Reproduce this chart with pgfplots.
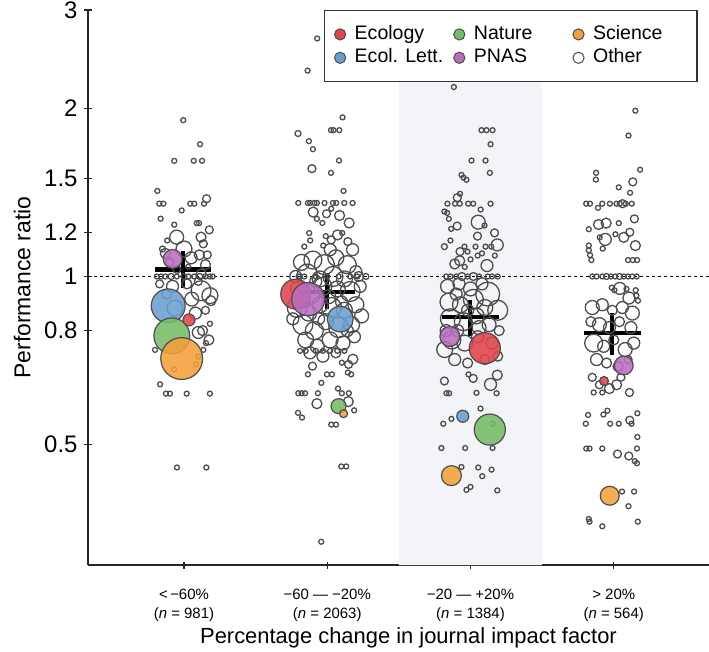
\documentclass[border=0pt]{standalone}
\usepackage{fontspec}
\setmainfont{Liberation Sans}
\usepackage{pgfplots}
\usepackage{pgfplotstable}
\pgfplotsset{compat=1.18}
\definecolor{ogray}{HTML}{4D4D4D}
\definecolor{cEco}{HTML}{E0454B}
\definecolor{cEL}{HTML}{6A9FD2}
\definecolor{cNat}{HTML}{76BC66}
\definecolor{cPNAS}{HTML}{B86EBF}
\definecolor{cSci}{HTML}{F4A03A}
\definecolor{shade}{HTML}{F2F4F7}

\pgfplotstableread{
x y r
-0.005 1.905 1.25
0.112 1.725 1.25
-0.068 1.611 1.25
0.068 1.611 1.25
0.126 1.611 1.25
-0.186 1.423 1.25
-0.172 1.350 1.25
-0.144 1.350 1.25
0.044 1.350 1.25
0.072 1.350 1.25
0.158 1.378 2
0.140 1.350 1.25
-0.016 1.313 1.25
-0.163 1.269 1.25
-0.068 1.238 1.25
0.089 1.246 1.25
0.105 1.246 1.25
0.177 1.212 2
-0.051 1.176 3.5
-0.117 1.160 1.25
0.119 1.176 2.5
0.135 1.144 2
0.107 1.093 2.5
0.163 1.093 2
0.030 1.041 1.25
-0.150 1.120 1.5
-0.100 1.060 2
0.050 1.080 3
0.150 1.050 2.5
-0.050 1.030 2
-0.130 1.100 2.5
0.120 1.010 2.5
0.000 1.120 4
-0.190 1.000 1.25
-0.160 1.000 1.25
-0.130 1.000 1.25
-0.090 1.000 1.5
-0.050 1.000 1.25
0.000 1.000 1.5
0.030 1.000 1.25
0.070 1.000 1.25
0.110 1.000 1.5
0.150 1.000 1.25
0.180 1.000 1.25
0.200 1.000 1.25
0.119 0.943 5
0.181 0.924 4
0.188 0.905 2.5
-0.063 0.877 4
0.054 0.911 3.5
-0.170 0.970 2
-0.080 0.960 3
0.020 0.970 2.5
0.100 0.980 2
-0.120 0.930 2.5
0.080 0.860 3
0.150 0.870 2
0.130 0.800 2.5
0.181 0.823 1.25
0.100 0.794 3
0.174 0.770 2.5
0.154 0.760 1.25
-0.202 0.739 1.25
-0.121 0.739 1.25
0.135 0.739 1.25
-0.068 0.682 1.25
0.100 0.719 1.25
0.084 0.696 1.25
-0.167 0.641 1.25
-0.126 0.617 1.25
-0.098 0.617 1.25
0.019 0.617 1.25
0.181 0.617 1.25
-0.049 0.455 1.25
0.156 0.455 1.25
0.930 2.668 1.25
0.863 2.337 1.25
1.107 1.927 1.25
0.796 1.803 1.5
0.872 1.747 1.25
0.900 1.690 1.25
1.026 1.828 1.25
1.044 1.828 1.25
1.084 1.828 1.25
1.082 1.613 1.25
0.893 1.560 2
1.026 1.533 1.25
1.114 1.423 1.25
0.798 1.354 1.25
0.865 1.354 1.25
0.881 1.354 1.25
0.911 1.354 1.25
0.928 1.354 1.25
0.981 1.354 1.25
1.040 1.354 1.25
1.063 1.354 1.25
1.119 1.354 1.25
1.177 1.354 1.25
0.902 1.304 2.5
0.928 1.268 1.25
0.995 1.295 2
1.086 1.286 2.5
1.028 1.322 1.25
0.966 1.247 1.25
1.153 1.247 2.5
0.874 1.196 1.25
0.881 1.160 1.25
0.990 1.181 1.25
1.028 1.163 2
1.072 1.187 2.5
1.105 1.196 1.25
1.144 1.155 2
0.840 1.131 1.25
0.972 1.136 1.25
1.177 1.117 3
1.021 1.117 3
0.82 1.06 4
0.90 1.07 4.5
0.98 1.05 5
1.06 1.08 4
1.14 1.05 4.5
1.20 1.02 3
0.78 1.00 3
0.86 1.01 5
0.95 0.99 4
1.04 1.00 5
1.12 0.99 4
1.22 1.00 2.5
0.80 0.95 4
0.88 0.93 5
0.97 0.96 4.5
1.07 0.95 4
1.16 0.94 5
1.23 0.96 3
0.79 0.88 5
0.87 0.86 4
0.95 0.89 4
1.03 0.88 5
1.12 0.87 4
1.20 0.89 4
0.83 0.82 5
0.91 0.80 4.5
0.99 0.83 4
1.08 0.81 5
1.17 0.82 4
0.85 0.77 4
0.93 0.75 3.5
1.02 0.77 4
1.11 0.76 3.5
1.19 0.78 3
0.88 0.73 3
0.97 0.72 3
1.06 0.73 2.5
0.92 0.98 3
1.01 0.92 3.5
1.10 0.90 3
0.84 0.90 3
0.94 0.84 3
1.14 0.80 3
1.24 0.85 3.5
0.76 0.84 3
0.80 1.00 1.25
0.84 1.00 1.25
0.92 1.00 1.25
1.00 1.00 1.25
1.08 1.00 1.25
1.16 1.00 1.25
1.21 1.00 1.25
1.27 1.00 1.5
0.81 0.736 1.25
0.85 0.736 1.25
0.92 0.736 1.25
0.97 0.736 1.25
1.02 0.736 1.25
1.07 0.736 1.25
1.12 0.736 1.25
0.897 0.691 2
1.102 0.701 1.25
1.149 0.696 2
1.179 0.711 2.5
0.865 0.668 1.25
1.033 0.668 1.25
0.998 0.668 1.25
1.144 0.673 1.25
1.167 0.668 1.25
0.959 0.645 1.25
1.075 0.630 1.25
0.798 0.618 1.25
0.821 0.618 1.25
0.845 0.618 1.25
0.935 0.618 1.25
1.102 0.618 1.25
1.151 0.618 1.25
0.928 0.592 2.5
1.147 0.597 2.5
1.188 0.576 1.25
0.796 0.570 1.25
0.824 0.559 1.25
1.028 0.543 1.25
1.061 0.543 1.25
1.098 0.457 1.25
1.133 0.457 1.25
0.958 0.335 1.25
1.884 2.184 1.25
2.077 1.828 1.25
2.112 1.828 1.25
2.154 1.828 1.25
2.140 1.725 1.25
2.007 1.613 1.25
2.105 1.613 1.25
2.135 1.533 1.25
1.937 1.520 1.25
1.951 1.503 1.25
1.972 1.490 1.25
1.927 1.406 1.25
1.908 1.384 2
1.839 1.350 1.25
1.892 1.350 1.25
1.925 1.350 1.25
1.984 1.350 1.25
2.019 1.350 1.25
2.140 1.350 1.25
2.071 1.318 1.25
1.818 1.307 1.25
1.837 1.300 1.25
1.849 1.268 1.25
2.054 1.251 3.5
1.907 1.231 2
1.865 1.217 1.25
2.098 1.234 1.25
2.049 1.181 2
2.168 1.197 2
1.860 1.160 1.25
2.187 1.139 3
1.958 1.131 1.25
2.035 1.131 1.25
2.105 1.131 1.25
2.145 1.131 1.25
1.818 1.131 1.5
1.927 1.108 2
1.979 1.108 1.25
1.890 1.053 2.5
1.925 1.067 2.5
2.000 1.073 1.25
2.050 1.090 1.25
2.115 1.046 3
1.960 1.040 1.25
2.080 1.100 1.25
2.170 1.090 1.25
1.83 1.00 1.25
1.86 1.00 1.25
1.90 1.00 1.25
1.94 1.00 2
1.98 1.00 1.25
2.02 1.00 2
2.06 1.00 1.25
2.12 1.00 1.25
2.15 1.00 1.25
2.19 1.00 1.25
1.84 0.96 3.5
1.92 0.97 3
2.00 0.95 3.5
2.08 0.97 3
2.12 0.93 6
1.85 0.90 4.5
1.93 0.89 4
2.02 0.91 5
2.10 0.88 4
2.19 0.87 5
1.86 0.84 5
1.95 0.83 4.5
2.04 0.85 4
2.13 0.82 3.5
1.87 0.77 4.5
1.96 0.76 4
2.05 0.78 3
2.15 0.76 3
1.89 0.71 3
1.98 0.70 2.5
2.10 0.71 2.5
2.19 0.72 2.5
1.83 0.80 3
2.20 0.80 2.5
1.90 0.93 3
1.98 0.87 3
2.06 0.81 3.5
1.91 0.80 3
1.82 0.74 4
1.818 0.650 2
1.986 0.668 1.25
2.019 0.657 2
2.140 0.641 3
2.187 0.666 2.5
1.832 0.618 1.25
1.851 0.618 1.25
2.042 0.619 1.25
2.182 0.618 1.25
2.070 0.580 1.25
1.810 0.545 1.25
1.867 0.556 1.25
2.154 0.545 1.25
1.797 0.493 1.25
1.963 0.493 1.25
2.154 0.493 1.25
1.937 0.456 1.25
2.054 0.455 1.25
2.147 0.451 1.25
2.082 0.439 1.25
2.000 0.420 1.25
1.972 0.415 1.25
2.187 0.414 1.25
3.151 1.981 1.25
3.103 1.788 1.25
2.877 1.533 1.25
3.184 1.553 1.25
2.875 1.491 1.25
3.133 1.477 2
3.035 1.444 1.25
3.114 1.412 1.25
2.808 1.350 1.25
2.834 1.350 1.25
2.920 1.350 1.25
2.973 1.350 1.25
3.019 1.350 1.25
3.042 1.350 1.25
3.061 1.350 2
3.084 1.350 1.25
3.126 1.350 1.25
2.890 1.327 1.25
3.144 1.268 2
2.894 1.239 2.5
2.947 1.246 2.5
3.035 1.246 1.25
2.826 1.215 1.25
3.112 1.200 2
3.012 1.190 1.25
2.902 1.175 1.25
2.941 1.165 3
3.070 1.175 2.5
3.151 1.136 2.5
2.826 1.136 1.25
2.826 1.114 1.25
2.835 1.092 1.25
2.844 1.070 1.25
2.923 1.122 1.25
3.100 1.070 1.25
3.133 1.070 1.25
3.163 1.070 1.25
2.85 1.00 1.25
2.88 1.00 1.25
2.92 1.00 1.25
2.95 1.00 1.5
2.98 1.00 1.25
3.01 1.00 1.25
3.04 1.00 1.5
3.07 1.00 1.25
3.10 1.00 1.25
3.13 1.00 1.25
3.16 1.00 1.25
2.986 0.955 1.25
3.042 0.952 3
3.089 0.950 1.25
3.005 0.945 1.25
3.153 0.945 1.25
3.158 0.924 1.25
3.106 0.915 3
3.169 0.905 1.25
2.85 0.88 3.5
2.92 0.89 3
2.99 0.87 2.5
3.06 0.88 3
3.13 0.86 3.5
2.84 0.83 2.5
2.90 0.82 3.5
2.97 0.81 3
3.04 0.83 2.5
3.12 0.81 3
2.86 0.76 4.5
2.93 0.75 3
3.00 0.77 2.5
3.08 0.74 3.5
3.14 0.76 3
2.88 0.71 3
2.95 0.70 2.5
3.03 0.69 2.5
3.10 0.71 2
2.85 0.66 2
2.90 0.64 2
2.97 0.63 2.5
3.05 0.66 2
3.02 0.64 2.5
3.11 0.62 2
2.92 0.62 1.25
2.86 0.62 1.25
2.821 0.565 1.25
2.928 0.566 1.25
2.956 0.575 1.25
3.165 0.569 1.25
3.112 0.553 2
3.124 0.545 1.25
2.805 0.545 1.25
2.975 0.545 1.25
3.035 0.545 1.25
3.165 0.516 1.25
2.808 0.492 1.25
2.831 0.492 1.25
2.920 0.492 1.25
3.162 0.492 1.25
3.026 0.481 2
3.105 0.477 2
3.147 0.467 1.25
3.162 0.463 1.25
3.058 0.412 1.25
3.142 0.412 1.25
3.103 0.388 1.25
2.826 0.368 1.25
2.831 0.364 1.25
2.920 0.357 1.25
3.168 0.364 1.25
}\other

\pgfplotstableread{
x y r
0.035 0.836 3
0.780 0.930 7.5
2.100 0.744 7.8
2.932 0.650 2.25
}\ecology
\pgfplotstableread{
x y r
-0.110 0.886 8.5
1.091 0.839 6.5
1.946 0.562 3
}\ecollett
\pgfplotstableread{
x y r
-0.085 0.783 9
1.079 0.586 3.75
2.135 0.532 7.8
}\nature
\pgfplotstableread{
x y r
-0.079 1.075 4.75
0.867 0.911 8.3
1.856 0.781 5
3.070 0.693 4.7
}\pnas
\pgfplotstableread{
x y r
-0.016 0.713 10.5
1.114 0.568 2
1.867 0.440 5
2.972 0.405 4.75
}\science

\pgfplotsset{
  bub/.style={scatter, only marks, mark=*, forget plot,
    point meta=explicit,
    scatter/use mapped color={draw=ogray, fill=#1, fill opacity=0.88, line width=0.6pt},
    visualization depends on={\thisrow{r}\as\pms},
    scatter/@pre marker code/.append style={/tikz/mark size=\pms}},
  hol/.style={scatter, only marks, mark=o, forget plot,
    point meta=explicit,
    scatter/use mapped color={draw=ogray, line width=0.65pt},
    visualization depends on={\thisrow{r}\as\pms},
    scatter/@pre marker code/.append style={/tikz/mark size=\pms}},
  dotleg/.style={legend image code/.code={\draw[##1] plot coordinates {(0bp,0bp)};}},
  crossline/.style={black, line width=2.1pt, forget plot},
}

\begin{document}
\begin{tikzpicture}
\useasboundingbox (-44bp,-43.5bp) rectangle (310.5bp,282.5bp);
\begin{axis}[
  scale only axis, width=310.5bp, height=277.5bp,
  xmin=-0.67, xmax=3.665,
  ymode=log, ymin=0.3044, ymax=3,
  axis x line=bottom, axis y line=left,
  axis line style={-, line width=0.7pt, black!85},
  tick style={line width=0.6pt, black!85}, major tick length=3.5bp,
  xtick={0,1,2,3},
  xticklabels={{<\,−60\%\\(\textit{n} = 981)},{−60 — −20\%\\(\textit{n} = 2063)},{−20 — +20\%\\(\textit{n} = 1384)},{> 20\%\\(\textit{n} = 564)}},
  xticklabel style={align=center, font=\fontsize{7.5}{9.5}\selectfont, yshift=-7bp},
  ytick={0.5,0.8,1,1.2,1.5,2,3},
  yticklabels={0.5,0.8,1,1.2,1.5,2,3},
  yminorticks=false,
  yticklabel style={font=\fontsize{12}{14}\selectfont},
  xlabel={Percentage change in journal impact factor},
  ylabel={Performance ratio},
  xlabel style={font=\fontsize{11}{13}\selectfont, yshift=4bp, xshift=5bp},
  ylabel style={font=\fontsize{11.5}{13}\selectfont},
  legend columns=3,
  legend style={at={(rel axis cs:0.982,1)}, anchor=north east,
    draw=black!80, line width=0.7pt, inner xsep=5bp, inner ysep=6bp,
    font=\fontsize{9.8}{11}\selectfont,
    nodes={inner sep=1bp, text height=7.2bp, text depth=2.5bp},
    /tikz/every odd column/.append style={column sep=3.5bp},
    /tikz/every even column/.append style={column sep=2.5bp}},
  legend cell align=left,
]
\addplot[draw=none, fill=shade, forget plot] coordinates {(1.5,0.3044) (1.5,3) (2.5,3) (2.5,0.3044) (1.5,0.3044)};
\addplot[black, line width=0.7pt, dash pattern=on 1.3bp off 1.7bp, forget plot] coordinates {(-0.67,1) (3.665,1)};

\addplot[hol] table[x=x, y=y, meta=r] {\other};

\addplot[bub=cEL] table[x=x, y=y, meta=r] {\ecollett};
\addplot[bub=cNat] table[x=x, y=y, meta=r] {\nature};
\addplot[bub=cSci] table[x=x, y=y, meta=r] {\science};
\addplot[bub=cEco] table[x=x, y=y, meta=r] {\ecology};
\addplot[bub=cPNAS] table[x=x, y=y, meta=r] {\pnas};

% mean crosses
\addplot[crossline] coordinates {(-0.20,1.029) (0.19,1.029)};
\addplot[crossline] coordinates {(-0.005,0.952) (-0.005,1.113)};
\addplot[crossline] coordinates {(0.798,0.939) (1.195,0.939)};
\addplot[crossline] coordinates {(1.0,0.874) (1.0,1.015)};
\addplot[crossline] coordinates {(1.803,0.845) (2.198,0.845)};
\addplot[crossline] coordinates {(1.994,0.781) (1.994,0.908)};
\addplot[crossline] coordinates {(2.793,0.791) (3.187,0.791)};
\addplot[crossline] coordinates {(2.99,0.723) (2.99,0.859)};

\addlegendimage{dotleg, only marks, mark=*, mark size=2.8bp, mark options={draw=ogray, fill=cEco, line width=0.5pt}}
\addlegendentry{\makebox[46bp][l]{Ecology}}
\addlegendimage{dotleg, only marks, mark=*, mark size=2.8bp, mark options={draw=ogray, fill=cNat, line width=0.5pt}}
\addlegendentry{\makebox[46bp][l]{Nature}}
\addlegendimage{dotleg, only marks, mark=*, mark size=2.8bp, mark options={draw=ogray, fill=cSci, line width=0.5pt}}
\addlegendentry{\makebox[46bp][l]{Science}}
\addlegendimage{dotleg, only marks, mark=*, mark size=2.8bp, mark options={draw=ogray, fill=cEL, line width=0.5pt}}
\addlegendentry{\makebox[46bp][l]{Ecol. Lett.}}
\addlegendimage{dotleg, only marks, mark=*, mark size=2.8bp, mark options={draw=ogray, fill=cPNAS, line width=0.5pt}}
\addlegendentry{\makebox[46bp][l]{PNAS}}
\addlegendimage{dotleg, only marks, mark=o, mark size=2.8bp, mark options={draw=ogray, line width=0.5pt}}
\addlegendentry{\makebox[46bp][l]{Other}}
\end{axis}
\end{tikzpicture}
\end{document}
